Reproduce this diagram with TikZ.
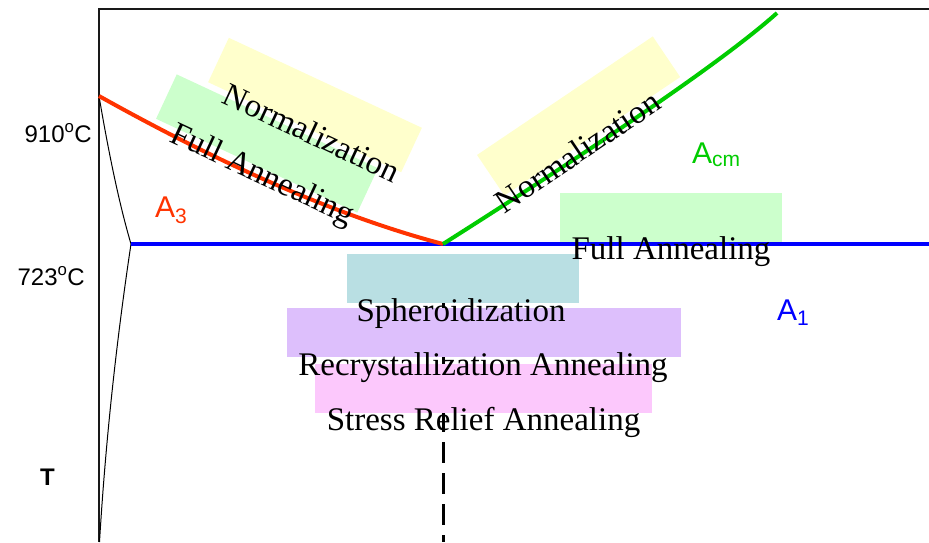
\documentclass[tikz,border=0pt]{standalone}
\usepackage{fontspec}
\setmainfont{Liberation Serif}
\setsansfont{Liberation Sans}
\usetikzlibrary{calc}
\definecolor{bandyellow}{RGB}{255, 255, 204}
\definecolor{bandgreen}{RGB}{204, 255, 204}
\definecolor{bandteal}{RGB}{185, 223, 227}
\definecolor{bandviolet}{RGB}{221, 191, 252}
\definecolor{bandpink}{RGB}{252, 200, 252}
\definecolor{lineAthree}{RGB}{255, 51, 0}
\definecolor{lineAcm}{RGB}{0, 204, 0}
\definecolor{lineAone}{RGB}{0, 0, 255}
\tikzset{
  band/.style={fill=#1, draw=none, inner sep=0pt, minimum height=49pt},
  treat/.style={font=\fontsize{33}{36}\selectfont, inner sep=0pt},
  phase/.style={line width=4pt, draw=#1},
  crit/.style={font=\sffamily\fontsize{30}{32}\selectfont, text=#1, inner sep=0pt},
  tlbl/.style={font=\sffamily\fontsize{24}{26}\selectfont, inner sep=0pt},
}

\begin{document}
\begin{tikzpicture}[x=1pt, y=-1pt]
  \useasboundingbox (0,0) rectangle (929,542);
  % key points
  \coordinate (orig) at (99,542);
  \coordinate (ytop) at (99,9);
  \coordinate (xend) at (929,9);
  \coordinate (gfe) at (99,96);
  \coordinate (pfe) at (131,244);
  \coordinate (eut) at (443,244);
  \coordinate (eutbot) at (443,542);
  \coordinate (aone) at (929,244);
  \coordinate (acmtop) at (777,13);
  \coordinate (alow) at (99.5,542);
  % eutectoid composition
  \draw[line width=3pt, dash pattern=on 21pt off 10pt, dash phase=19pt] (eut) -- (eutbot);
  % treatment bands
  \node[band=bandgreen, minimum width=222pt, rotate=-25] (fullL) at (267,143.5) {};
  \node[band=bandyellow, minimum width=213pt, rotate=-25] (normL) at (315,105) {};
  \node[band=bandyellow, minimum width=212pt, rotate=34] (normR) at (578.6,116) {};
  \node[band=bandgreen, minimum width=222pt] (fullR) at (671,217.5) {};
  \node[band=bandteal, minimum width=232pt] (sph) at (463,278.5) {};
  \node[band=bandviolet, minimum width=394pt] (recr) at (484,332.5) {};
  \node[band=bandpink, minimum width=337pt] (stress) at (483.5,388.5) {};
  % frame
  \draw[line width=1.5pt, black!90] (orig) -- (ytop) -- (xend);
  % phase boundaries
  \draw[line width=1pt] (gfe) .. controls (109.4,157.3) and (120,206.7) .. (pfe)
    .. controls (115.9,344.7) and (105.4,444) .. (alow);
  \draw[phase=lineAone] (pfe) -- (aone);
  \draw[phase=lineAthree] (gfe) .. controls (230,169.3) and (345,218.3) .. (eut);
  \draw[phase=lineAcm] (eut) .. controls (618,133) and (729,56) .. (acmtop);
  % axis labels
  \node[tlbl, anchor=base east] (tgamma) at (92,142) {910\textsuperscript{o}C};
  \node[tlbl, anchor=base east] (teut) at (85,285) {723\textsuperscript{o}C};
  \node[tlbl, anchor=base] (taxis) at (47.5,485) {\bfseries T};
  \node[crit=lineAthree, anchor=base west] (lAthree) at (155,217) {A\textsubscript{3}};
  \node[crit=lineAcm, anchor=base west] (lAcm) at (692,163) {A\textsubscript{cm}};
  \node[crit=lineAone, anchor=base west] (lAone) at (777,320) {A\textsubscript{1}};
  % treatment names
  \node[treat, rotate=-25] (fullLT) at (262,176) {Full Annealing};
  \node[treat, rotate=-25] (normLT) at (312,132.5) {Normalization};
  \node[treat, rotate=34] (normRT) at (577.5,151.5) {Normalization};
  \node[treat, anchor=base] (fullRT) at ($(fullR.south)+(0,17)$) {Full Annealing};
  \node[treat, anchor=base] (sphT) at ($(sph.south)+(-2,18)$) {Spheroidization};
  \node[treat, anchor=base] (recrT) at ($(recr.south)+(-1,18)$) {Recrystallization Annealing};
  \node[treat, anchor=base] (stressT) at ($(stress.south)+(0,17)$) {Stress Relief Annealing};
\end{tikzpicture}
\end{document}
